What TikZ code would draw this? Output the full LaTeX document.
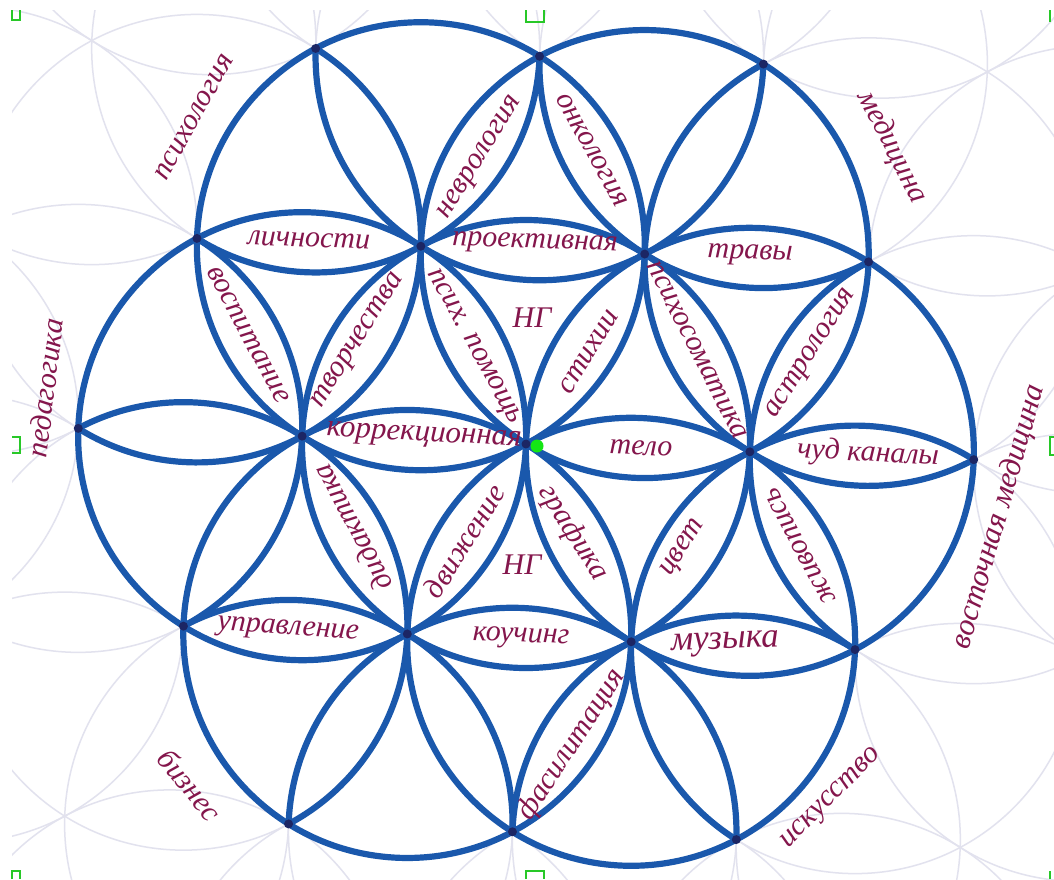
\documentclass[tikz,border=0pt]{standalone}
\usepackage{fontspec}
\setmainfont{Liberation Serif}
\definecolor{ink}{RGB}{26,88,172}
\definecolor{inkdark}{RGB}{28,38,100}
\definecolor{faintcol}{RGB}{226,226,238}
\definecolor{lblcol}{RGB}{132,22,76}
\definecolor{handlecol}{RGB}{40,200,40}
\definecolor{dotcol}{RGB}{20,230,20}
\tikzset{
  inkline/.style={draw=ink, line width=6.2pt},
  faintline/.style={draw=faintcol, line width=1.5pt},
  lbl/.style={text=lblcol, font=\fontsize{30}{30}\selectfont\itshape, inner sep=0pt},
  handle/.style={draw=handlecol, line width=1.3pt}
}
\begin{document}
\begin{tikzpicture}[x=1pt,y=1pt]
\useasboundingbox (0,-879) rectangle (1054,0);
\fill[white] (0,-879) rectangle (1054,0);
% faint background circles
\begin{scope}
  \clip (12,-879) rectangle (1054,-10);
  \begin{scope}[shift={(526,-444)}, rotate=-2]
    \foreach \i/\j in {1/0,0/1,-1/1,-1/0,0/-1,1/-1,
                       1/1,-1/2,-2/1,-1/-1,1/-2,2/-1,
                       2/0,0/2,-2/2,-2/0,0/-2,2/-2,
                       2/1,1/2,-1/3,-2/3,-3/2,-3/1,-2/-1,-1/-2,1/-3,2/-3,3/-2,3/-1,
                       3/0,0/3,-3/3,-3/0,0/-3,3/-3}
      \draw[faintline] ({224*\i+112*\j},{193.99*\j}) circle (224);
  \end{scope}
\end{scope}
% flower of life
\begin{scope}[shift={(526,-444)}, rotate=-2]
  \fill[white] (224,0) circle (224) (112,193.99) circle (224) (-112,193.99) circle (224)
               (-224,0) circle (224) (-112,-193.99) circle (224) (112,-193.99) circle (224);
  \begin{scope}
    \clip (224,0) circle (224) (112,193.99) circle (224) (-112,193.99) circle (224)
          (-224,0) circle (224) (-112,-193.99) circle (224) (112,-193.99) circle (224);
    \foreach \i/\j in {1/1,-1/2,-2/1,-1/-1,1/-2,2/-1,2/0,0/2,-2/2,-2/0,0/-2,2/-2}
      \draw[inkline] ({224*\i+112*\j},{193.99*\j}) circle (224);
  \end{scope}
  \foreach \i/\j in {0/0,1/0,0/1,-1/1,-1/0,0/-1,1/-1}
    \draw[inkline] ({224*\i+112*\j},{193.99*\j}) circle (224);
  \foreach \i/\j in {0/0,1/0,0/1,-1/1,-1/0,0/-1,1/-1,1/1,-1/2,-2/1,-1/-1,1/-2,2/-1,2/0,0/2,-2/2,-2/0,0/-2,2/-2}
    \fill[inkdark] ({224*\i+112*\j},{193.99*\j}) coordinate (v\i\j) circle (4.5);
\end{scope}
% labels
\node[lbl, rotate=61] (psy) at (194,-117) {психология};
\node[lbl, rotate=-2] (lich) at (309,-240) {личности};
\node[lbl, rotate=58] (nevr) at (481,-158) {неврология};
\node[lbl, rotate=-61] (onk) at (592,-150) {онкология};
\node[lbl, rotate=-2] (proj) at (535,-244) {проективная};
\node[lbl, rotate=-63] (med) at (892,-147) {медицина};
\node[lbl, rotate=-2] (trav) at (750,-255) {травы};
\node[lbl, rotate=83] (ped) at (45,-388) {педагогика};
\node[lbl, rotate=-62] (vosp) at (248,-335) {воспитание};
\node[lbl, rotate=58] (tvor) at (359,-341) {творчества};
\node[lbl, rotate=-61] (pom) at (473,-347) {псих. помощь};
\node[lbl] (ng1) at (532,-318) {НГ};
\node[lbl, rotate=58] (stih) at (589,-352) {стихии};
\node[lbl, rotate=-63] (psom) at (697,-350) {психосоматика};
\node[lbl, rotate=58] (astr) at (812,-354) {астрология};
\node[lbl, rotate=-3] (korr) at (424,-437) {\fontsize{31}{31}\selectfont коррекционная};
\node[lbl, rotate=-2] (telo) at (641,-448) {тело};
\node[lbl, rotate=-3] (chud) at (868,-454) {чуд каналы};
\node[lbl, rotate=118] (did) at (352,-528) {дидактика};
\node[lbl, rotate=58] (dvizh) at (464,-541) {движение};
\node[lbl] (ng2) at (522,-565) {НГ};
\node[lbl, rotate=-58] (graf) at (573,-533) {графика};
\node[lbl, rotate=58] (cvet) at (684,-548) {цвет};
\node[lbl, rotate=118] (zhiv) at (800,-546) {живопись};
\node[lbl, rotate=-4] (upr) at (288,-631) {управление};
\node[lbl, rotate=-2] (kouch) at (521,-638) {коучинг};
\node[lbl, rotate=2] (muz) at (725,-644) {\fontsize{35}{35}\selectfont музыка};
\node[lbl, rotate=57] (fas) at (572,-745) {фасилитация};
\node[lbl, rotate=-51] (biz) at (190,-785) {бизнес};
\node[lbl, rotate=45] (isk) at (832,-799) {искусство};
\node[lbl, rotate=74] (vost) at (999,-517) {\fontsize{31}{31}\selectfont восточная медицина};
% centre dot
\fill[dotcol] (537,-446) circle (6.5);
% selection handles
\draw[handle] (12,-10) -- (12,-20) -- (20,-20) -- (20,-10);
\draw[handle] (526,-10) -- (526,-22) -- (544,-22) -- (544,-10);
\draw[handle] (1050,-10) -- (1050,-22);
\draw[handle] (12,-437) -- (20,-437) -- (20,-453) -- (12,-453);
\draw[handle] (1054,-437) -- (1050,-437) -- (1050,-455) -- (1054,-455);
\draw[handle] (12,-879) -- (12,-871) -- (20,-871) -- (20,-879);
\draw[handle] (526,-879) -- (526,-871) -- (544,-871) -- (544,-879);
\draw[handle] (1050,-879) -- (1050,-871);
\end{tikzpicture}
\end{document}
